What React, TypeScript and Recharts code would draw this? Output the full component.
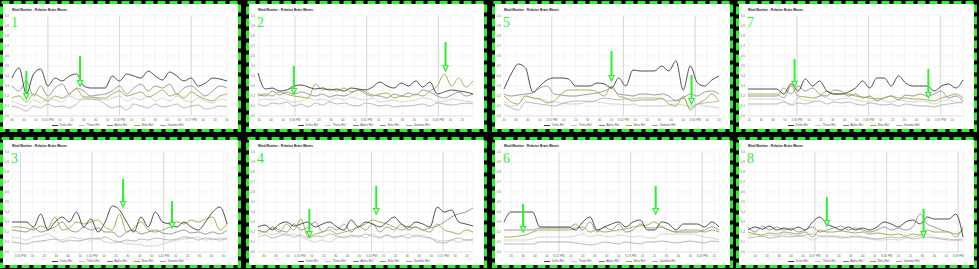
import { CartesianGrid, Legend, Line, LineChart, ReferenceLine, XAxis, YAxis } from "recharts";

const TITLE = "Mind Monitor - Relative Brain Waves";
const seriesKeys = ["delta", "theta", "alpha", "beta", "gamma"];
const seriesNames = ["Delta Rel", "Theta Rel", "Alpha Rel", "Beta Rel", "Gamma Rel"];
const yTicks = [0, 0.1, 0.2, 0.3, 0.4, 0.5, 0.6, 0.7, 0.8, 0.9, 1.0];
const STEP = 6; // seconds between samples

// panel 1
const p1Start = "18:14:30";
const p1Delta = [0.38, 0.48, 0.22, 0.42, 0.47, 0.30, 0.38, 0.35, 0.40, 0.42, 0.30, 0.28, 0.28, 0.28, 0.40, 0.35, 0.42, 0.40, 0.38, 0.45, 0.40, 0.36, 0.44, 0.40, 0.35, 0.38, 0.30, 0.33, 0.38, 0.37, 0.35];
const p1Theta = [0.15, 0.12, 0.10, 0.16, 0.13, 0.18, 0.16, 0.14, 0.20, 0.17, 0.16, 0.17, 0.17, 0.16, 0.18, 0.20, 0.15, 0.18, 0.16, 0.20, 0.15, 0.18, 0.15, 0.20, 0.16, 0.14, 0.18, 0.15, 0.13, 0.17, 0.16];
const p1Alpha = [0.30, 0.25, 0.35, 0.20, 0.30, 0.20, 0.28, 0.32, 0.22, 0.28, 0.25, 0.20, 0.21, 0.22, 0.25, 0.30, 0.22, 0.28, 0.32, 0.25, 0.30, 0.28, 0.32, 0.22, 0.28, 0.30, 0.25, 0.20, 0.25, 0.30, 0.28];
const p1Beta = [0.18, 0.20, 0.14, 0.22, 0.19, 0.15, 0.20, 0.18, 0.22, 0.27, 0.19, 0.19, 0.18, 0.18, 0.22, 0.25, 0.20, 0.22, 0.24, 0.19, 0.22, 0.26, 0.20, 0.22, 0.18, 0.24, 0.20, 0.17, 0.15, 0.20, 0.22];
const p1Gamma = [0.10, 0.08, 0.05, 0.10, 0.08, 0.12, 0.09, 0.10, 0.08, 0.12, 0.18, 0.17, 0.16, 0.12, 0.08, 0.10, 0.06, 0.12, 0.10, 0.08, 0.12, 0.09, 0.10, 0.12, 0.08, 0.10, 0.11, 0.07, 0.08, 0.10, 0.09];
const p1Arrows = [[12, 0.45, 0.17], [57, 0.60, 0.30]];

// panel 2
const p2Start = "18:43:29";
const p2Delta = [0.43, 0.27, 0.28, 0.25, 0.26, 0.30, 0.31, 0.29, 0.27, 0.28, 0.26, 0.27, 0.25, 0.28, 0.27, 0.26, 0.29, 0.34, 0.30, 0.28, 0.33, 0.30, 0.35, 0.29, 0.34, 0.22, 0.24, 0.26, 0.25, 0.24, 0.22];
const p2Theta = [0.15, 0.17, 0.16, 0.18, 0.16, 0.14, 0.15, 0.18, 0.16, 0.17, 0.15, 0.18, 0.16, 0.19, 0.17, 0.16, 0.18, 0.14, 0.15, 0.16, 0.14, 0.15, 0.16, 0.18, 0.17, 0.14, 0.15, 0.17, 0.16, 0.15, 0.14];
const p2Alpha = [0.22, 0.20, 0.25, 0.21, 0.24, 0.22, 0.24, 0.22, 0.20, 0.22, 0.19, 0.21, 0.20, 0.23, 0.26, 0.24, 0.21, 0.20, 0.18, 0.22, 0.20, 0.23, 0.21, 0.26, 0.24, 0.20, 0.18, 0.21, 0.24, 0.20, 0.22];
const p2Beta = [0.20, 0.22, 0.20, 0.24, 0.22, 0.20, 0.19, 0.18, 0.32, 0.26, 0.27, 0.25, 0.28, 0.24, 0.26, 0.22, 0.20, 0.22, 0.23, 0.18, 0.20, 0.19, 0.22, 0.20, 0.25, 0.30, 0.42, 0.30, 0.38, 0.29, 0.35];
const p2Gamma = [0.12, 0.10, 0.13, 0.12, 0.14, 0.10, 0.12, 0.09, 0.13, 0.11, 0.14, 0.12, 0.13, 0.11, 0.10, 0.13, 0.12, 0.10, 0.11, 0.09, 0.10, 0.10, 0.11, 0.12, 0.10, 0.13, 0.12, 0.11, 0.12, 0.13, 0.12];
const p2Arrows = [[30, 0.50, 0.22], [157, 0.74, 0.45]];

// panel 3
const p3Start = "17:39:53";
const p3Delta = [0.30, 0.30, 0.30, 0.25, 0.38, 0.22, 0.30, 0.35, 0.30, 0.40, 0.25, 0.33, 0.20, 0.30, 0.46, 0.42, 0.30, 0.20, 0.35, 0.25, 0.40, 0.30, 0.28, 0.25, 0.30, 0.25, 0.22, 0.30, 0.40, 0.45, 0.28];
const p3Theta = [0.15, 0.14, 0.12, 0.15, 0.16, 0.18, 0.14, 0.12, 0.15, 0.14, 0.13, 0.12, 0.14, 0.10, 0.09, 0.10, 0.08, 0.08, 0.07, 0.06, 0.06, 0.08, 0.10, 0.12, 0.13, 0.14, 0.15, 0.12, 0.13, 0.14, 0.12];
const p3Alpha = [0.22, 0.21, 0.20, 0.24, 0.20, 0.22, 0.25, 0.30, 0.22, 0.20, 0.25, 0.22, 0.24, 0.20, 0.20, 0.15, 0.20, 0.22, 0.18, 0.20, 0.22, 0.19, 0.18, 0.20, 0.22, 0.19, 0.20, 0.18, 0.20, 0.18, 0.22];
const p3Beta = [0.25, 0.25, 0.24, 0.22, 0.26, 0.24, 0.35, 0.22, 0.24, 0.30, 0.28, 0.30, 0.32, 0.25, 0.22, 0.38, 0.20, 0.24, 0.30, 0.22, 0.20, 0.22, 0.25, 0.30, 0.28, 0.32, 0.30, 0.33, 0.35, 0.22, 0.28];
const p3Gamma = [0.10, 0.09, 0.08, 0.10, 0.11, 0.12, 0.13, 0.10, 0.12, 0.11, 0.12, 0.14, 0.13, 0.15, 0.12, 0.10, 0.12, 0.11, 0.13, 0.12, 0.14, 0.13, 0.12, 0.13, 0.15, 0.14, 0.12, 0.14, 0.13, 0.12, 0.14];
const p3Arrows = [[93, 0.73, 0.45], [134, 0.51, 0.24]];

// panel 4
const p4Start = "17:18:25";
const p4Delta = [0.25, 0.27, 0.22, 0.28, 0.30, 0.26, 0.28, 0.30, 0.25, 0.28, 0.30, 0.25, 0.22, 0.32, 0.25, 0.30, 0.28, 0.25, 0.30, 0.35, 0.28, 0.25, 0.30, 0.28, 0.25, 0.45, 0.40, 0.42, 0.30, 0.28, 0.26];
const p4Theta = [0.18, 0.20, 0.17, 0.19, 0.16, 0.18, 0.15, 0.12, 0.10, 0.12, 0.10, 0.14, 0.16, 0.15, 0.17, 0.14, 0.18, 0.15, 0.17, 0.14, 0.16, 0.18, 0.15, 0.17, 0.14, 0.12, 0.11, 0.12, 0.10, 0.12, 0.11];
const p4Alpha = [0.22, 0.20, 0.25, 0.22, 0.20, 0.28, 0.22, 0.25, 0.30, 0.20, 0.25, 0.22, 0.28, 0.20, 0.26, 0.22, 0.28, 0.20, 0.25, 0.22, 0.28, 0.22, 0.25, 0.22, 0.24, 0.26, 0.30, 0.35, 0.38, 0.40, 0.44];
const p4Beta = [0.22, 0.20, 0.24, 0.20, 0.28, 0.22, 0.33, 0.15, 0.18, 0.20, 0.22, 0.18, 0.20, 0.22, 0.25, 0.28, 0.32, 0.30, 0.28, 0.25, 0.22, 0.24, 0.25, 0.22, 0.20, 0.28, 0.22, 0.20, 0.18, 0.22, 0.20];
const p4Gamma = [0.15, 0.17, 0.14, 0.16, 0.18, 0.15, 0.17, 0.14, 0.16, 0.15, 0.18, 0.16, 0.14, 0.17, 0.15, 0.18, 0.16, 0.14, 0.17, 0.15, 0.16, 0.14, 0.17, 0.15, 0.14, 0.10, 0.09, 0.12, 0.14, 0.12, 0.13];
const p4Arrows = [[43, 0.43, 0.15], [99, 0.66, 0.38]];

// panel 5
const p5Start = "16:50:20";
const p5Delta = [0.27, 0.42, 0.52, 0.48, 0.24, 0.30, 0.36, 0.38, 0.38, 0.37, 0.30, 0.30, 0.30, 0.33, 0.32, 0.28, 0.38, 0.30, 0.46, 0.45, 0.45, 0.45, 0.50, 0.45, 0.55, 0.26, 0.50, 0.33, 0.30, 0.36, 0.40];
const p5Theta = [0.15, 0.10, 0.12, 0.20, 0.18, 0.17, 0.15, 0.14, 0.13, 0.12, 0.12, 0.13, 0.15, 0.14, 0.13, 0.12, 0.12, 0.11, 0.12, 0.10, 0.10, 0.10, 0.10, 0.11, 0.12, 0.11, 0.10, 0.12, 0.10, 0.09, 0.08];
const p5Alpha = [0.22, 0.20, 0.21, 0.22, 0.23, 0.28, 0.30, 0.22, 0.21, 0.20, 0.20, 0.21, 0.22, 0.23, 0.25, 0.28, 0.22, 0.21, 0.20, 0.22, 0.22, 0.21, 0.22, 0.20, 0.15, 0.18, 0.22, 0.20, 0.24, 0.25, 0.22];
const p5Beta = [0.20, 0.14, 0.12, 0.20, 0.18, 0.17, 0.13, 0.15, 0.22, 0.26, 0.26, 0.26, 0.26, 0.24, 0.20, 0.30, 0.20, 0.18, 0.15, 0.16, 0.16, 0.16, 0.18, 0.12, 0.10, 0.20, 0.06, 0.12, 0.16, 0.22, 0.15];
const p5Gamma = [0.12, 0.08, 0.06, 0.14, 0.13, 0.12, 0.11, 0.10, 0.12, 0.14, 0.15, 0.15, 0.14, 0.16, 0.18, 0.17, 0.16, 0.17, 0.17, 0.18, 0.18, 0.18, 0.17, 0.15, 0.16, 0.18, 0.08, 0.12, 0.13, 0.14, 0.15];
const p5Arrows = [[90, 0.65, 0.35], [157, 0.41, 0.12]];

// panel 6
const p6Start = "18:21:14";
const p6Delta = [0.30, 0.40, 0.40, 0.40, 0.40, 0.25, 0.25, 0.25, 0.25, 0.25, 0.22, 0.30, 0.35, 0.22, 0.25, 0.28, 0.30, 0.25, 0.30, 0.32, 0.22, 0.22, 0.30, 0.28, 0.22, 0.28, 0.28, 0.28, 0.25, 0.30, 0.25];
const p6Theta = [0.12, 0.12, 0.12, 0.12, 0.13, 0.15, 0.15, 0.15, 0.15, 0.15, 0.16, 0.18, 0.15, 0.17, 0.16, 0.15, 0.17, 0.16, 0.15, 0.16, 0.14, 0.14, 0.18, 0.18, 0.18, 0.18, 0.18, 0.17, 0.15, 0.14, 0.12];
const p6Alpha = [0.22, 0.22, 0.22, 0.22, 0.22, 0.24, 0.24, 0.24, 0.24, 0.24, 0.28, 0.22, 0.30, 0.20, 0.25, 0.22, 0.28, 0.20, 0.22, 0.28, 0.24, 0.24, 0.25, 0.22, 0.20, 0.20, 0.20, 0.20, 0.22, 0.25, 0.22];
const p6Beta = [0.15, 0.15, 0.16, 0.17, 0.20, 0.22, 0.22, 0.22, 0.22, 0.22, 0.24, 0.25, 0.20, 0.22, 0.20, 0.21, 0.22, 0.23, 0.25, 0.26, 0.27, 0.30, 0.25, 0.22, 0.20, 0.22, 0.22, 0.22, 0.20, 0.22, 0.20];
const p6Gamma = [0.08, 0.08, 0.08, 0.08, 0.08, 0.10, 0.10, 0.10, 0.10, 0.10, 0.09, 0.08, 0.07, 0.08, 0.10, 0.09, 0.08, 0.10, 0.09, 0.08, 0.10, 0.10, 0.11, 0.10, 0.09, 0.10, 0.11, 0.10, 0.09, 0.11, 0.10];
const p6Arrows = [[16, 0.48, 0.20], [127, 0.66, 0.38]];

// panel 7
const p7Start = "17:04:19";
const p7Delta = [0.27, 0.27, 0.27, 0.27, 0.27, 0.22, 0.32, 0.25, 0.37, 0.30, 0.35, 0.25, 0.22, 0.22, 0.24, 0.28, 0.35, 0.28, 0.38, 0.38, 0.30, 0.40, 0.33, 0.30, 0.30, 0.30, 0.25, 0.30, 0.32, 0.28, 0.36];
const p7Theta = [0.17, 0.17, 0.17, 0.17, 0.17, 0.15, 0.12, 0.18, 0.16, 0.15, 0.20, 0.18, 0.16, 0.17, 0.18, 0.16, 0.15, 0.14, 0.18, 0.15, 0.14, 0.16, 0.15, 0.14, 0.15, 0.14, 0.12, 0.15, 0.16, 0.14, 0.13];
const p7Alpha = [0.20, 0.20, 0.20, 0.20, 0.20, 0.28, 0.22, 0.30, 0.25, 0.28, 0.22, 0.20, 0.26, 0.25, 0.20, 0.22, 0.18, 0.20, 0.15, 0.18, 0.20, 0.16, 0.21, 0.20, 0.22, 0.20, 0.22, 0.25, 0.18, 0.20, 0.15];
const p7Beta = [0.22, 0.22, 0.22, 0.22, 0.22, 0.18, 0.30, 0.20, 0.19, 0.18, 0.20, 0.25, 0.22, 0.22, 0.22, 0.20, 0.19, 0.18, 0.17, 0.18, 0.20, 0.18, 0.18, 0.17, 0.17, 0.16, 0.15, 0.18, 0.20, 0.22, 0.18];
const p7Gamma = [0.12, 0.12, 0.12, 0.12, 0.12, 0.14, 0.11, 0.13, 0.12, 0.14, 0.15, 0.12, 0.14, 0.13, 0.14, 0.12, 0.11, 0.13, 0.12, 0.11, 0.12, 0.10, 0.12, 0.11, 0.10, 0.10, 0.09, 0.11, 0.12, 0.13, 0.14];
const p7Arrows = [[39, 0.57, 0.29], [151, 0.47, 0.18]];

// panel 8
const p8Start = "18:06:04";
const p8Delta = [0.22, 0.25, 0.23, 0.26, 0.22, 0.24, 0.22, 0.25, 0.22, 0.30, 0.35, 0.28, 0.25, 0.22, 0.25, 0.22, 0.24, 0.22, 0.25, 0.30, 0.28, 0.25, 0.30, 0.32, 0.28, 0.35, 0.33, 0.33, 0.33, 0.38, 0.15];
const p8Theta = [0.16, 0.18, 0.15, 0.17, 0.16, 0.18, 0.17, 0.16, 0.15, 0.12, 0.15, 0.17, 0.15, 0.16, 0.14, 0.15, 0.14, 0.13, 0.12, 0.12, 0.13, 0.12, 0.14, 0.15, 0.16, 0.18, 0.15, 0.14, 0.13, 0.12, 0.14];
const p8Alpha = [0.25, 0.20, 0.26, 0.22, 0.25, 0.22, 0.24, 0.20, 0.22, 0.25, 0.20, 0.22, 0.24, 0.26, 0.22, 0.24, 0.22, 0.20, 0.22, 0.25, 0.22, 0.24, 0.22, 0.25, 0.38, 0.28, 0.25, 0.22, 0.20, 0.18, 0.22];
const p8Beta = [0.20, 0.18, 0.17, 0.19, 0.18, 0.20, 0.19, 0.18, 0.20, 0.15, 0.22, 0.20, 0.20, 0.21, 0.20, 0.19, 0.20, 0.18, 0.19, 0.18, 0.17, 0.18, 0.16, 0.18, 0.17, 0.22, 0.20, 0.20, 0.20, 0.15, 0.25];
const p8Gamma = [0.14, 0.15, 0.16, 0.14, 0.15, 0.16, 0.15, 0.16, 0.17, 0.18, 0.16, 0.15, 0.16, 0.14, 0.15, 0.16, 0.15, 0.14, 0.13, 0.14, 0.15, 0.14, 0.15, 0.13, 0.14, 0.15, 0.14, 0.13, 0.12, 0.12, 0.12];
const p8Arrows = [[66, 0.55, 0.26], [147, 0.43, 0.15]];

const COLORS: Record<string, string> = {
  delta: "#3c3c3c",
  theta: "#c6c6c6",
  alpha: "#7c7c7c",
  beta: "#97ab3c",
  gamma: "#a4a4a4",
};
const DRAW_ORDER = ["theta", "gamma", "alpha", "beta", "delta"];
const GREEN = "#2cf02c";
const FONT = "'Liberation Sans', Arial, sans-serif";

const PANELS = [
  { num: 1, start: p1Start, delta: p1Delta, theta: p1Theta, alpha: p1Alpha, beta: p1Beta, gamma: p1Gamma, arrows: p1Arrows },
  { num: 2, start: p2Start, delta: p2Delta, theta: p2Theta, alpha: p2Alpha, beta: p2Beta, gamma: p2Gamma, arrows: p2Arrows },
  { num: 5, start: p5Start, delta: p5Delta, theta: p5Theta, alpha: p5Alpha, beta: p5Beta, gamma: p5Gamma, arrows: p5Arrows },
  { num: 7, start: p7Start, delta: p7Delta, theta: p7Theta, alpha: p7Alpha, beta: p7Beta, gamma: p7Gamma, arrows: p7Arrows },
  { num: 3, start: p3Start, delta: p3Delta, theta: p3Theta, alpha: p3Alpha, beta: p3Beta, gamma: p3Gamma, arrows: p3Arrows },
  { num: 4, start: p4Start, delta: p4Delta, theta: p4Theta, alpha: p4Alpha, beta: p4Beta, gamma: p4Gamma, arrows: p4Arrows },
  { num: 6, start: p6Start, delta: p6Delta, theta: p6Theta, alpha: p6Alpha, beta: p6Beta, gamma: p6Gamma, arrows: p6Arrows },
  { num: 8, start: p8Start, delta: p8Delta, theta: p8Theta, alpha: p8Alpha, beta: p8Beta, gamma: p8Gamma, arrows: p8Arrows },
];

const COL_X = [0, 246, 492, 736];
const ROW_Y = [1, 137];

function toSec(hms: string) {
  const [h, m, s] = hms.split(":").map(Number);
  return h * 3600 + m * 60 + s;
}

function fmtTick(t: number) {
  const s = t % 60;
  if (s !== 0) return String(s);
  const h = Math.floor(t / 3600) % 12 || 12;
  const m = Math.floor((t % 3600) / 60);
  return `${h}:${String(m).padStart(2, "0")} PM`;
}

function ArrowShape(props: any) {
  const { x1, y1, y2 } = props;
  const top = Math.min(y1, y2);
  const tip = Math.max(y1, y2);
  return (
    <g>
      <line x1={x1} y1={top} x2={x1} y2={tip - 5} stroke={GREEN} strokeWidth={2} />
      <polygon
        points={`${x1 - 2.6},${tip - 5.5} ${x1 + 2.6},${tip - 5.5} ${x1},${tip}`}
        fill="#eaffea"
        stroke={GREEN}
        strokeWidth={1.2}
      />
    </g>
  );
}

function LegendRow() {
  return (
    <div
      style={{
        display: "flex",
        justifyContent: "center",
        alignItems: "center",
        gap: 7,
        height: 6,
        fontSize: 3,
        lineHeight: "3px",
        fontFamily: FONT,
        color: "#555",
        paddingLeft: 6,
      }}
    >
      {seriesKeys.map((k, i) => (
        <span key={k} style={{ display: "flex", alignItems: "center", gap: 1.5 }}>
          <span style={{ width: 6, height: 0, borderTop: `1px solid ${COLORS[k]}` }} />
          {seriesNames[i]}
        </span>
      ))}
    </div>
  );
}

function Panel({ p, left, top }: { p: (typeof PANELS)[number]; left: number; top: number }) {
  const t0 = toSec(p.start);
  const rows = p.delta.map((_, i) => ({
    t: t0 + i * STEP,
    delta: p.delta[i],
    theta: p.theta[i],
    alpha: p.alpha[i],
    beta: p.beta[i],
    gamma: p.gamma[i],
  }));
  const t1 = t0 + (p.delta.length - 1) * STEP;
  const ticks: number[] = [];
  for (let t = Math.ceil(t0 / 10) * 10; t <= t1; t += 10) ticks.push(t);
  const minutes = ticks.filter((t) => t % 60 === 0);

  return (
    <div style={{ position: "absolute", left, top, width: 241, height: 131 }}>
      <svg width={241} height={131} style={{ position: "absolute", left: 0, top: 0 }}>
        <rect x={3} y={3} width={235} height={125} fill="#fff" />
        <rect
          x={1.5}
          y={1.5}
          width={238}
          height={128}
          fill="none"
          stroke={GREEN}
          strokeWidth={3}
          strokeDasharray="8 4"
        />
      </svg>
      <div style={{ position: "absolute", left: 3, top: 3, width: 235, height: 125 }}>
        <LineChart width={235} height={125} data={rows} margin={{ top: 12, right: 11, left: 0, bottom: 1 }}>
          <CartesianGrid stroke="#ececec" strokeWidth={0.6} />
          <XAxis
            dataKey="t"
            type="number"
            domain={[t0, t1]}
            ticks={ticks}
            interval={0}
            tickFormatter={fmtTick}
            tick={{ fontSize: 3, fill: "#666", fontFamily: FONT }}
            tickLine={false}
            tickSize={0}
            axisLine={{ stroke: "#d6d6d6", strokeWidth: 0.6 }}
            tickMargin={3}
            height={6}
          />
          <YAxis
            domain={[0, 1]}
            ticks={yTicks}
            interval={0}
            tickFormatter={(v) => Number(v).toFixed(1)}
            tick={{ fontSize: 3, fill: "#666", fontFamily: FONT }}
            tickLine={false}
            tickSize={0}
            axisLine={false}
            tickMargin={3}
            width={9}
          />
          {minutes.map((m) => (
            <ReferenceLine key={m} x={m} stroke="#cdcdcd" strokeWidth={0.7} />
          ))}
          {DRAW_ORDER.map((k) => (
            <Line
              key={k}
              dataKey={k}
              name={seriesNames[seriesKeys.indexOf(k)]}
              type="monotone"
              stroke={COLORS[k]}
              strokeWidth={k === "delta" || k === "beta" ? 0.9 : 0.75}
              dot={false}
              isAnimationActive={false}
            />
          ))}
          {p.arrows.map(([dt, yTop, yTip], i) => (
            <ReferenceLine
              key={`a${i}`}
              segment={[
                { x: t0 + dt, y: yTop },
                { x: t0 + dt, y: yTip },
              ]}
              shape={ArrowShape}
              ifOverflow="visible"
            />
          ))}
          <Legend verticalAlign="bottom" height={6} content={() => <LegendRow />} />
        </LineChart>
        <div
          style={{
            position: "absolute",
            left: 9,
            top: 4.5,
            fontSize: 3.2,
            fontWeight: 700,
            fontFamily: FONT,
            color: "#222",
            lineHeight: 1,
            whiteSpace: "nowrap",
          }}
        >
          {TITLE}
        </div>
        <div
          style={{
            position: "absolute",
            left: 8,
            top: 11.5,
            fontSize: 14,
            lineHeight: 1,
            fontFamily: "'Liberation Serif', 'DejaVu Serif', serif",
            color: GREEN,
          }}
        >
          {p.num}
        </div>
      </div>
    </div>
  );
}

export default function App() {
  return (
    <div style={{ position: "absolute", left: 0, top: 0, width: 979, height: 269, background: "#000", overflow: "hidden" }}>
      {PANELS.map((p, i) => (
        <Panel key={p.num} p={p} left={COL_X[i % 4]} top={ROW_Y[Math.floor(i / 4)]} />
      ))}
    </div>
  );
}
